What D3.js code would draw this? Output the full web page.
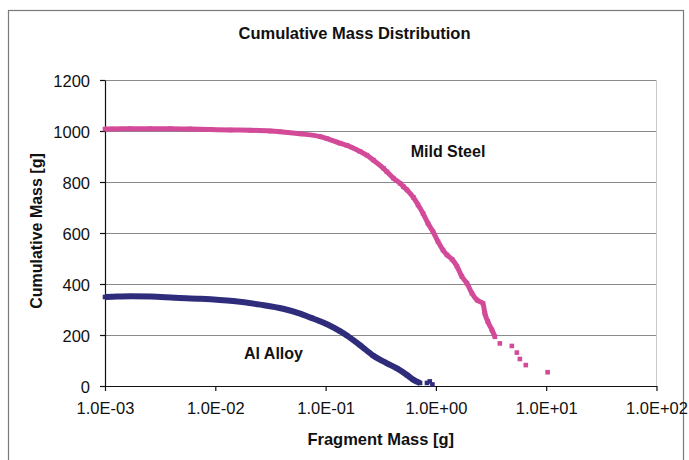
<!DOCTYPE html>
<html>
<head>
<meta charset="utf-8">
<script src="https://cdn.jsdelivr.net/npm/d3@7"></script>
<style>
  html, body { margin: 0; padding: 0; background: #fff; }
  svg { display: block; font-family: "Liberation Sans", Arial, sans-serif; }
</style>
</head>
<body>
<svg id="chart" width="689" height="460"></svg>
<script>
// ---- data ----
const chartTitle = "Cumulative Mass Distribution";
const xAxisTitle = "Fragment Mass [g]";
const yAxisTitle = "Cumulative Mass [g]";

const xTicks = [1e-3, 1e-2, 1e-1, 1e0, 1e1, 1e2];
const xTickLabels = ["1.0E-03", "1.0E-02", "1.0E-01", "1.0E+00", "1.0E+01", "1.0E+02"];
const yTicks = [0, 200, 400, 600, 800, 1000, 1200];

// Mild Steel: dense part of the curve
const steelMass = [0.001, 0.00116, 0.00169, 0.00257, 0.0039, 0.0059, 0.009, 0.0137, 0.0207, 0.0314,
  0.0387, 0.0587, 0.0891, 0.103, 0.135, 0.156, 0.205, 0.237, 0.271, 0.334,
  0.360, 0.411, 0.473, 0.507, 0.547, 0.624, 0.689, 0.764, 0.847, 0.942, 1.045,
  1.16, 1.26, 1.40, 1.55, 1.72, 1.91, 2.12, 2.36, 2.67, 2.78, 2.96, 3.22, 3.43];
const steelCum = [1008, 1008, 1009, 1009, 1009, 1008, 1006, 1004, 1003, 1000,
  997, 989, 978, 970, 952, 944, 920, 905, 886, 854,
  840, 815, 795, 782, 769, 740, 710, 677, 638, 605, 566,
  533, 514, 497, 470, 429, 403, 364, 337, 324, 285, 252, 220, 193];
// Mild Steel: separate points of the tail
const steelTailMass = [3.80, 4.88, 5.42, 5.77, 6.53, 10.3];
const steelTailCum = [167, 157, 131, 106, 82, 54];

// Al Alloy: dense part of the curve
const alMass = [0.001, 0.0013, 0.0017, 0.0026, 0.0043, 0.0073, 0.0145, 0.0255, 0.0412, 0.0587,
  0.073, 0.089, 0.103, 0.135, 0.156, 0.205, 0.269, 0.360, 0.444, 0.547, 0.621, 0.718];
const alCum = [349, 351, 352, 351, 346, 342, 333, 319, 303, 284,
  268, 254, 242, 215, 198, 160, 120, 89, 69, 43, 25, 12];
// Al Alloy: separate points of the tail
const alTailMass = [0.83, 0.88, 0.93];
const alTailCum = [12, 18, 6];

const steelColor = "#d24a98";
const alColor = "#2f2c7c";

// ---- drawing ----
const svg = d3.select("#chart");
const plot = { left: 105, right: 656.5, top: 80, bottom: 386 };

const x = d3.scaleLog().domain([1e-3, 1e2]).range([plot.left, plot.right]);
const y = d3.scaleLinear().domain([0, 1200]).range([plot.bottom, plot.top]);

// outer chart border
svg.append("rect")
  .attr("x", 8.5).attr("y", 10.5)
  .attr("width", 675).attr("height", 470)
  .attr("fill", "none").attr("stroke", "#7a7a7a").attr("stroke-width", 1.2);

// title
svg.append("text")
  .attr("x", 354.5).attr("y", 39)
  .attr("text-anchor", "middle")
  .attr("font-size", 16.5).attr("font-weight", "bold")
  .attr("fill", "#111")
  .text(chartTitle);

// gridlines
svg.append("g").selectAll("line")
  .data(yTicks.filter(d => d > 0))
  .join("line")
  .attr("x1", plot.left).attr("x2", plot.right)
  .attr("y1", d => Math.round(y(d)) + 0.5).attr("y2", d => Math.round(y(d)) + 0.5)
  .attr("stroke", "#8a8a8a").attr("stroke-width", 1);

// right edge of plot area
svg.append("line")
  .attr("x1", plot.right).attr("x2", plot.right)
  .attr("y1", plot.top).attr("y2", plot.bottom)
  .attr("stroke", "#c8c8c8").attr("stroke-width", 1);

// axes
const yAxis = d3.axisLeft(y).tickValues(yTicks).tickFormat(d3.format("d"))
  .tickSize(5).tickSizeOuter(0).tickPadding(10);
const gy = svg.append("g").attr("transform", `translate(${plot.left},0)`).call(yAxis);
gy.selectAll(".tick text").attr("dy", "0.42em");

const xAxis = d3.axisBottom(x).tickValues(xTicks).tickFormat((d, i) => xTickLabels[i])
  .tickSize(5).tickSizeOuter(0).tickPadding(11);
const gx = svg.append("g").attr("transform", `translate(0,${plot.bottom})`).call(xAxis);

[gx, gy].forEach(g => {
  g.selectAll(".domain").attr("stroke", "#111").attr("stroke-width", 1.2);
  g.selectAll(".tick line").attr("stroke", "#111").attr("stroke-width", 1.2);
  g.selectAll(".tick text")
    .attr("font-size", 16.5)
    .attr("font-family", "'Liberation Sans', Arial, sans-serif")
    .attr("fill", "#111");
});

// axis titles
svg.append("text")
  .attr("transform", `translate(42,231) rotate(-90)`)
  .attr("text-anchor", "middle")
  .attr("font-size", 16).attr("font-weight", "bold").attr("fill", "#111")
  .text(yAxisTitle);

svg.append("text")
  .attr("x", (plot.left + plot.right) / 2).attr("y", 445)
  .attr("text-anchor", "middle")
  .attr("font-size", 16.5).attr("font-weight", "bold").attr("fill", "#111")
  .text(xAxisTitle);

// series
const line = d3.line().x(d => x(d[0])).y(d => y(d[1])).curve(d3.curveMonotoneX);
const msize = 4.6;

function drawSeries(mass, cum, tailMass, tailCum, color, width) {
  const pts = mass.map((m, i) => [m, cum[i]]);
  const tail = tailMass.map((m, i) => [m, tailCum[i]]);
  svg.append("path")
    .datum(pts)
    .attr("d", line)
    .attr("fill", "none")
    .attr("stroke", color)
    .attr("stroke-width", width)
    .attr("stroke-linejoin", "round");
  svg.append("g").selectAll("rect")
    .data(pts.concat(tail))
    .join("rect")
    .attr("x", d => x(d[0]) - msize / 2)
    .attr("y", d => y(d[1]) - msize / 2)
    .attr("width", msize).attr("height", msize)
    .attr("fill", color);
}

drawSeries(steelMass, steelCum, steelTailMass, steelTailCum, steelColor, 5);
drawSeries(alMass, alCum, alTailMass, alTailCum, alColor, 6);

// series labels
svg.append("text")
  .attr("x", 448).attr("y", 157)
  .attr("text-anchor", "middle")
  .attr("font-size", 16).attr("font-weight", "bold").attr("fill", "#111")
  .text("Mild Steel");

svg.append("text")
  .attr("x", 273.5).attr("y", 359)
  .attr("text-anchor", "middle")
  .attr("font-size", 16).attr("font-weight", "bold").attr("fill", "#111")
  .text("Al Alloy");
</script>
</body>
</html>
